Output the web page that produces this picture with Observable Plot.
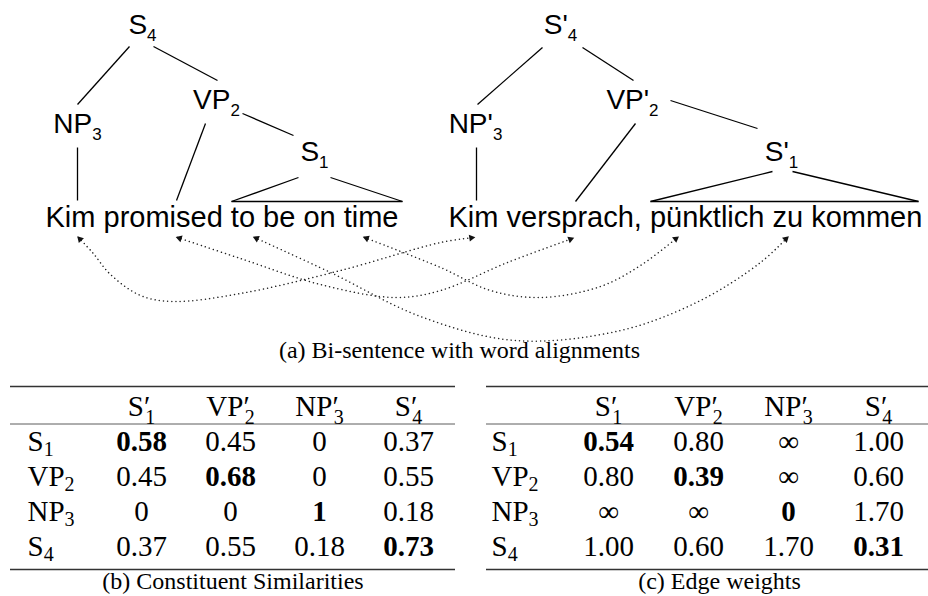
<!DOCTYPE html>
<html><head><meta charset="utf-8">
<script src="https://cdn.jsdelivr.net/npm/d3@7"></script>
<script src="https://cdn.jsdelivr.net/npm/@observablehq/plot@0.6"></script>
<style>
html,body{margin:0;padding:0;background:#fff;}
#fig{position:relative;width:928px;height:596px;background:#fff;overflow:hidden;}
#fig svg{position:absolute;}
</style></head><body><div id="fig"></div>
<script>
// ---------------- DATA ----------------
const sentenceEN = "Kim promised to be on time";
const sentenceDE = "Kim versprach, pünktlich zu kommen";
const treeLabels = ["S_4", "NP_3", "VP_2", "S_1", "S'_4", "NP'_3", "VP'_2", "S'_1"];
const alignments = [["Kim", "Kim"], ["promised", "versprach,"], ["to", "zu"], ["time", "pünktlich"]];
const colHeads = ["S′_1", "VP′_2", "NP′_3", "S′_4"];
const rowHeads = ["S_1", "VP_2", "NP_3", "S_4"];
const similarities = [
  [0.58, 0.45, 0, 0.37],
  [0.45, 0.68, 0, 0.55],
  [0, 0, 1, 0.18],
  [0.37, 0.55, 0.18, 0.73]
];
const edgeWeights = [
  [0.54, 0.80, Infinity, 1.00],
  [0.80, 0.39, Infinity, 0.60],
  [Infinity, Infinity, 0, 1.70],
  [1.00, 0.60, 1.70, 0.31]
];
const captionA = "(a) Bi-sentence with word alignments";
const captionB = "(b) Constituent Similarities";
const captionC = "(c) Edge weights";

// ---------------- LAYOUT (diagram geometry) ----------------
const sentencePos = [[45, 226], [448, 226]];
const nodePos = [[142, 33], [77, 132], [216, 108], [314, 160], [560, 33], [475, 132], [632, 108], [781, 160]];
const treeEdges = [
  [129, 46, 77, 104], [153, 46, 217, 80], [242, 113, 293, 135], [205, 123, 176, 200], [77, 147, 77, 200],
  [298, 177, 231, 201], [330, 177, 402, 201], [231, 201, 402, 201],
  [542, 47, 477, 104], [582, 47, 633, 80], [670, 100, 757, 128], [635, 123, 575, 201], [476, 147, 476, 200],
  [772, 171, 650, 201], [792, 171, 918, 201], [650, 201, 918, 201]
];
const alignPaths = [
  [[78, 237], [92, 252], [110, 274], [140, 295], [173, 301], [240, 293], [340, 270], [440, 242], [473, 237]],
  [[177, 237], [240, 258], [320, 284], [395, 297], [440, 290], [507, 262], [572, 238]],
  [[254, 237], [330, 272], [420, 316], [515, 340], [620, 330], [700, 300], [760, 262], [787, 237]],
  [[364, 237], [440, 267], [490, 290], [540, 297], [600, 286], [640, 265], [677, 237]]
];

// ---------------- helpers ----------------
const SVGNS = "http://www.w3.org/2000/svg";
function tspan(txt) { const t = document.createElementNS(SVGNS, "tspan"); t.textContent = txt; return t; }
// "X_n" -> X with subscript n ; "X′_n" -> prime stacked over subscript
function richify(svg, {sub, shift, primeShift}) {
  for (const t of svg.querySelectorAll("text")) {
    const s = t.textContent;
    const i = s.indexOf("_");
    if (i < 0) continue;
    let base = s.slice(0, i);
    const subText = s.slice(i + 1);
    const hasPrime = base.endsWith("′");
    if (hasPrime) base = base.slice(0, -1);
    t.textContent = "";
    t.appendChild(tspan(base));
    let dx = 0;
    if (hasPrime) {
      const p = tspan("′");
      t.appendChild(p);
      dx = -p.getComputedTextLength() * 0.8;
    }
    const sb = tspan(subText);
    sb.setAttribute("font-size", sub);
    sb.setAttribute("dy", hasPrime ? primeShift : shift);
    if (dx) sb.setAttribute("dx", dx);
    t.appendChild(sb);
  }
}

const fig = document.getElementById("fig");

// ---------------- (a) trees + alignments ----------------
const sentences = [sentenceEN, sentenceDE].map((text, i) => ({text, x: sentencePos[i][0], y: sentencePos[i][1]}));
const nodes = treeLabels.map((label, i) => ({label, x: nodePos[i][0], y: nodePos[i][1]}));
const edges = treeEdges.map(([x1, y1, x2, y2]) => ({x1, y1, x2, y2}));
const alignPoints = alignPaths.flatMap((pts, id) => pts.map(([x, y]) => ({id, from: alignments[id][0], to: alignments[id][1], x, y})));
function head(tip, prev) {
  const dx = tip[0] - prev[0], dy = tip[1] - prev[1];
  const L = Math.hypot(dx, dy);
  const ux = dx / L, uy = dy / L;
  return {x: tip[0] - ux * 2.2, y: tip[1] - uy * 2.2, rotate: Math.atan2(ux, -uy) * 180 / Math.PI};
}
const heads = alignPaths.flatMap(p => [head(p[0], p[1]), head(p[p.length - 1], p[p.length - 2])]);

const treePlot = Plot.plot({
  width: 928, height: 370,
  margin: 0,
  x: {domain: [0, 928], range: [0, 928], axis: null},
  y: {domain: [0, 370], range: [0, 370], axis: null},
  style: {background: "white", overflow: "visible"},
  marks: [
    Plot.link(edges, {x1: "x1", y1: "y1", x2: "x2", y2: "y2", stroke: "#000", strokeWidth: 1.3}),
    Plot.text(nodes, {x: "x", y: "y", text: "label", textAnchor: "middle", lineAnchor: "bottom",
      fontFamily: "Liberation Sans, Arial, sans-serif", fontSize: 28, fill: "#000"}),
    Plot.text(sentences, {x: "x", y: "y", text: "text", textAnchor: "start", lineAnchor: "bottom",
      fontFamily: "Liberation Sans, Arial, sans-serif", fontSize: 29, fill: "#000"}),
    Plot.line(alignPoints, {x: "x", y: "y", z: "id", curve: "catmull-rom", stroke: "#222",
      strokeWidth: 1.5, strokeDasharray: "0.01 4.2", strokeLinecap: "round"}),
    Plot.dot(heads, {x: "x", y: "y", rotate: "rotate", symbol: "triangle", r: 2.6, fill: "#111", stroke: "none"}),
    Plot.text([captionA], {x: () => 459, y: () => 357, textAnchor: "middle", lineAnchor: "bottom",
      fontFamily: "Liberation Serif, Times New Roman, serif", fontSize: 24, fill: "#000"})
  ]
});
treePlot.style.left = "0px"; treePlot.style.top = "0px";
fig.appendChild(treePlot);
richify(treePlot, {sub: "17px", shift: "7px", primeShift: "7px"});

// ---------------- (b), (c) tables ----------------
const fmtSim = v => (v === 0 || v === 1) ? String(v) : v.toFixed(2);
const fmtEdge = v => v === Infinity ? "∞" : v === 0 ? "0" : v.toFixed(2);
const serif = "Liberation Serif, Times New Roman, serif";

function makeTable(values, fmt, caption, opt) {
  const cells = [];
  rowHeads.forEach((r, i) => colHeads.forEach((c, j) => cells.push({row: r, col: c, v: values[i][j], bold: i === j})));
  const font = {fontFamily: serif, fontSize: 29, fill: "#000", lineAnchor: "bottom"};
  const p = Plot.plot({
    width: 464, height: 226,
    marginTop: 16, marginBottom: 27, marginLeft: opt.left, marginRight: opt.right,
    x: {type: "point", domain: colHeads, range: opt.cols, padding: 0, axis: null},
    y: {type: "point", domain: ["head", ...rowHeads], range: [45, 185], padding: 0, axis: null},
    style: {background: "white", overflow: "visible"},
    marks: [
      Plot.ruleY(["head"], {dy: -29, stroke: "#333", strokeWidth: 1.3}),
      Plot.ruleY(["head"], {dy: 8.5, stroke: "#333", strokeWidth: 0.8}),
      Plot.ruleY([rowHeads[rowHeads.length - 1]], {dy: 14, stroke: "#333", strokeWidth: 1.3}),
      Plot.text(colHeads, {x: d => d, y: () => "head", text: d => d, textAnchor: "middle", ...font}),
      Plot.text(rowHeads, {y: d => d, frameAnchor: "left", dx: opt.labelDx, text: d => d, textAnchor: "start", ...font}),
      Plot.text(cells.filter(d => !d.bold), {x: "col", y: "row", text: d => fmt(d.v), textAnchor: "middle", ...font}),
      Plot.text(cells.filter(d => d.bold), {x: "col", y: "row", text: d => fmt(d.v), textAnchor: "middle", fontWeight: "bold", ...font}),
      Plot.text([caption], {frameAnchor: "bottom", dx: opt.capDx, dy: 19, text: d => d, textAnchor: "middle", fontFamily: serif, fontSize: 24, fill: "#000", lineAnchor: "bottom"})
    ]
  });
  p.style.left = opt.x + "px"; p.style.top = "370px";
  fig.appendChild(p);
  richify(p, {sub: "20px", shift: "5px", primeShift: "8px"});
  return p;
}
makeTable(similarities, fmtSim, captionB, {x: 0, left: 10, right: 9, labelDx: 17, capDx: 0, cols: [141, 408]});
makeTable(edgeWeights, fmtEdge, captionC, {x: 464, left: 22, right: 0, labelDx: 5, capDx: 12, cols: [143, 414]});
</script></body></html>
